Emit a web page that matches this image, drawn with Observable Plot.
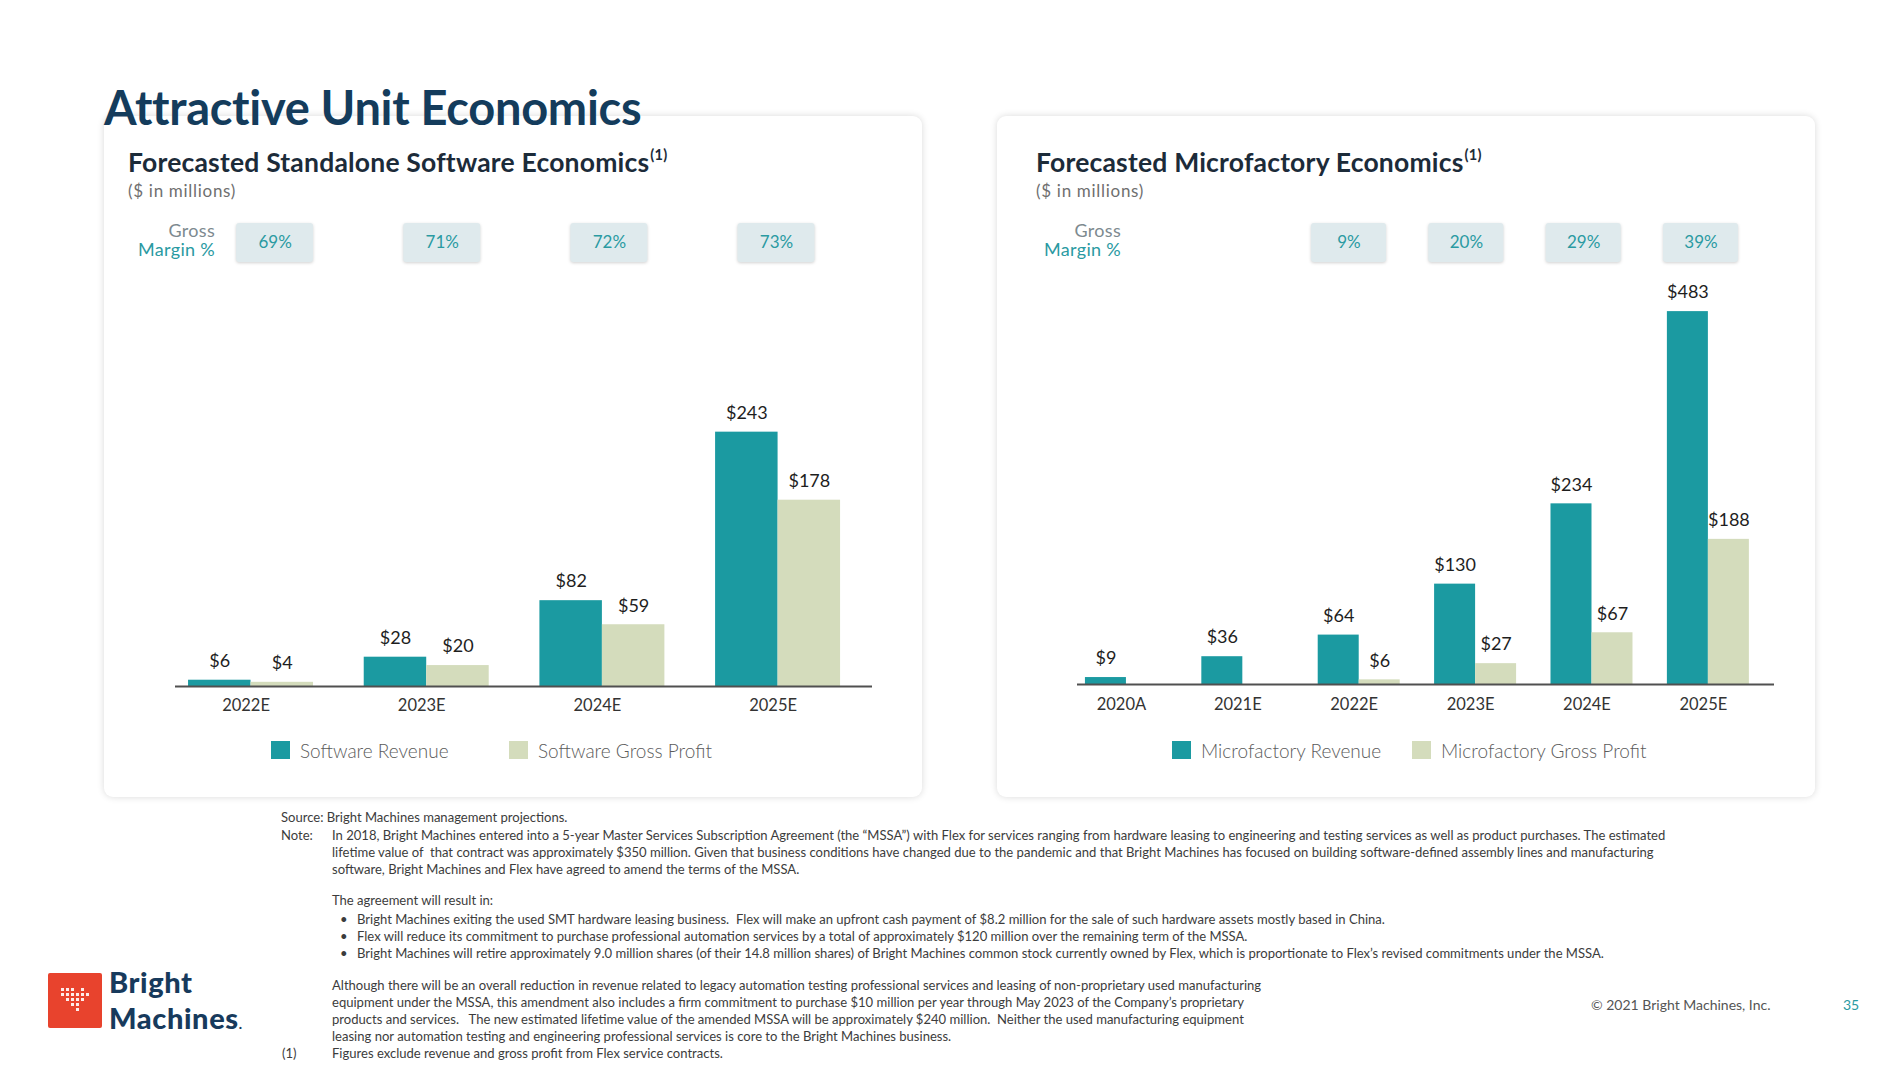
<!DOCTYPE html>
<html><head><meta charset="utf-8">
<script src="https://cdn.jsdelivr.net/npm/d3@7"></script>
<script src="https://cdn.jsdelivr.net/npm/@observablehq/plot@0.6"></script>
<style>
html,body{margin:0;padding:0;background:#fff}
body{width:1900px;height:1066px;position:relative;overflow:hidden;font-family:Lato,"Open Sans",sans-serif}
.t{position:absolute;white-space:nowrap;line-height:1}
.card{position:absolute;background:#fff;border-radius:9px;box-shadow:0 0 7px rgba(0,0,0,.15)}
.abs{position:absolute}
.fn{position:absolute;white-space:nowrap;line-height:1;font-size:13.05px;color:#3c3c3c;letter-spacing:0}
.sup{font-size:55%;position:relative;top:-0.8em;margin-left:1px}
.mrow g[aria-label="cell"] rect{filter:drop-shadow(0 1px 1.5px rgba(0,0,0,.18))}
body .lgL-swatches-wrap .lgL-swatch{margin-right:0}
body .lgL-swatches-wrap .lgL-swatch:first-of-type{min-width:238px}
body .lgR-swatches-wrap .lgR-swatch{margin-right:0}
body .lgR-swatches-wrap .lgR-swatch:first-of-type{min-width:240px}
body .lgL-swatch > svg, body .lgR-swatch > svg{margin-right:10px}
</style></head><body>
<script>
// ---------------- data ----------------
const swCategories = ["2022E", "2023E", "2024E", "2025E"];
const swRevenue = [6, 28, 82, 243];
const swGrossProfit = [4, 20, 59, 178];
const swMarginCategories = ["2022E", "2023E", "2024E", "2025E"];
const swMargin = ["69%", "71%", "72%", "73%"];
const swSeries = ["Software Revenue", "Software Gross Profit"];

const mfCategories = ["2020A", "2021E", "2022E", "2023E", "2024E", "2025E"];
const mfRevenue = [9, 36, 64, 130, 234, 483];
const mfGrossProfit = [null, null, 6, 27, 67, 188];
const mfMarginCategories = ["2022E", "2023E", "2024E", "2025E"];
const mfMargin = ["9%", "20%", "29%", "39%"];
const mfSeries = ["Microfactory Revenue", "Microfactory Gross Profit"];

const SERIES_COLORS = ["#1b9aa1", "#d4dcbc"];
const TEAL_TEXT = "#2a9aa2";

// ---------------- helpers ----------------
const body = document.body;
function el(tag, cls, css, html) {
  const e = document.createElement(tag);
  if (cls) e.className = cls;
  Object.assign(e.style, css || {});
  if (html != null) e.innerHTML = html;
  body.appendChild(e);
  return e;
}
function place(node, left, top) {
  const w = document.createElement("div");
  w.className = "abs";
  w.style.left = left + "px";
  w.style.top = top + "px";
  w.appendChild(node);
  body.appendChild(w);
  return w;
}

// ---------------- static slide text ----------------
el("div", "card", {left: "104px", top: "116px", width: "818px", height: "681px"});
el("div", "card", {left: "997px", top: "116px", width: "818px", height: "681px"});
el("div", "t", {left: "104px", top: "84px", fontSize: "47px", fontWeight: 700, color: "#143c5c", letterSpacing: "-0.3px"}, "Attractive Unit Economics");

function panelHeader(left, grossRight, title) {
  el("div", "t", {left: left + "px", top: "148.5px", fontSize: "26.5px", fontWeight: 700, color: "#1c2b39", letterSpacing: "0.2px"}, title + '<span class="sup">(1)</span>');
  el("div", "t", {left: left + "px", top: "181.5px", fontSize: "17px", color: "#6f6f6f", letterSpacing: "0.7px"}, "($ in millions)");
  el("div", "t", {right: (1900 - grossRight) + "px", top: "221px", fontSize: "18px", color: "#7d8a8f", textAlign: "right", letterSpacing: "0.3px"}, "Gross");
  el("div", "t", {right: (1900 - grossRight) + "px", top: "240px", fontSize: "18px", color: TEAL_TEXT, textAlign: "right", letterSpacing: "0.3px"}, "Margin %");
}
panelHeader(128, 215, "Forecasted Standalone Software Economics");
panelHeader(1036, 1121, "Forecasted Microfactory Economics");

// ---------------- charts ----------------
function drawPanel(cfg) {
  const {cats, rev, gp, series, marginCats, margins, bars, boxes, legend} = cfg;
  const rows = cats.map((c, i) => ({cat: c, value: rev[i]}));
  const gpRows = cats.map((c, i) => ({cat: c, value: gp[i]})).filter(d => d.value != null);
  const bw = d3.scaleBand().domain(cats)
    .range([bars.mL, bars.width - bars.mR])
    .paddingInner(bars.pi).paddingOuter(bars.po).align(bars.align).bandwidth();

  const chart = Plot.plot({
    width: bars.width, height: bars.height,
    marginLeft: bars.mL, marginRight: bars.mR, marginTop: 0, marginBottom: bars.mB,
    style: {background: "transparent", fontFamily: "Lato, sans-serif", color: "#2b2b2b", overflow: "visible"},
    x: {domain: cats, paddingInner: bars.pi, paddingOuter: bars.po, align: bars.align, round: false, label: null},
    y: {domain: [0, bars.yMax], axis: null},
    color: {domain: series, range: SERIES_COLORS},
    marks: [
      Plot.barY(rows, {x: "cat", y: "value", fill: () => series[0], insetRight: bw / 2}),
      Plot.barY(gpRows, {x: "cat", y: "value", fill: () => series[1], insetLeft: bw / 2}),
      Plot.ruleY([0], {stroke: "#505050", strokeWidth: 2.2}),
      Plot.text(rows, {x: "cat", y: "value", text: d => "$" + d.value, dx: -bw / 4, dy: -19, fontSize: 18, fill: "#1e1e1e"}),
      Plot.text(gpRows, {x: "cat", y: "value", text: d => "$" + d.value, dx: bw / 4, dy: -19, fontSize: 18, fill: "#1e1e1e"}),
      Plot.axisX({tickSize: 0, tickPadding: bars.tickPad, dx: bars.tickDx, fontSize: 16.5, fill: "#333", label: null})
    ]
  });
  place(chart, bars.left, bars.top);

  const mrows = marginCats.map((c, i) => ({cat: c, m: margins[i]}));
  const mrow = Plot.plot({
    width: boxes.width, height: 39, margin: 0, className: "mrow",
    style: {background: "transparent", fontFamily: "Lato, sans-serif", overflow: "visible"},
    x: {domain: marginCats, paddingInner: boxes.pi, paddingOuter: 0, round: false, axis: null},
    marks: [
      Plot.cell(mrows, {x: "cat", fill: "#dfeaed", rx: 3}),
      Plot.text(mrows, {x: "cat", text: "m", fill: TEAL_TEXT, fontSize: 17})
    ]
  });
  place(mrow, boxes.left, boxes.top);

  const lg = chart.legend("color", {
    swatchWidth: 19, swatchHeight: 18, className: legend.cls,
    style: {fontFamily: "Lato, sans-serif", fontSize: "19px", color: "#5b5b5b", fontWeight: 300}
  });
  place(lg, legend.left, legend.top);
}

drawPanel({
  cats: swCategories, rev: swRevenue, gp: swGrossProfit, series: swSeries,
  marginCats: swMarginCategories, margins: swMargin,
  bars: {left: 155, top: 280, width: 737, height: 456, mL: 20, mR: 20, mB: 50,
         pi: 0.2886, po: 0.128, align: 0.29, yMax: 387.9, tickPad: 13, tickDx: -5},
  boxes: {left: 235.5, top: 223, width: 578.6, pi: 0.5395},
  legend: {cls: "lgL", left: 271, top: 733.5}
});
drawPanel({
  cats: mfCategories, rev: mfRevenue, gp: mfGrossProfit, series: mfSeries,
  marginCats: mfMarginCategories, margins: mfMargin,
  bars: {left: 1057, top: 260, width: 737, height: 474, mL: 20, mR: 20, mB: 50,
         pi: 0.2955, po: 0.142, align: 0.24, yMax: 549.2, tickPad: 14, tickDx: -5},
  boxes: {left: 1310.5, top: 223, width: 427, pi: 0.3606},
  legend: {cls: "lgR", left: 1172, top: 733.5}
});

// ---------------- footnotes ----------------
function fn(left, cy, html) { el("div", "fn", {left: left + "px", top: (cy - 7.5) + "px"}, html); }
fn(281, 818, "Source: Bright Machines management projections.");
fn(281, 836, "Note:");
fn(332, 836, "In 2018, Bright Machines entered into a 5-year Master Services Subscription Agreement (the \u201CMSSA\u201D) with Flex for services ranging from hardware leasing to engineering and testing services as well as product purchases. The estimated");
fn(332, 853, "lifetime value of &nbsp;that contract was approximately $350 million. Given that business conditions have changed due to the pandemic and that Bright Machines has focused on building software-defined assembly lines and manufacturing");
fn(332, 870, "software, Bright Machines and Flex have agreed to amend the terms of the MSSA.");
fn(332, 901, "The agreement will result in:");
fn(340, 920, "\u2022");
fn(357, 920, "Bright Machines exiting the used SMT hardware leasing business. &nbsp;Flex will make an upfront cash payment of $8.2 million for the sale of such hardware assets mostly based in China.");
fn(340, 937, "\u2022");
fn(357, 937, "Flex will reduce its commitment to purchase professional automation services by a total of approximately $120 million over the remaining term of the MSSA.");
fn(340, 954, "\u2022");
fn(357, 954, "Bright Machines will retire approximately 9.0 million shares (of their 14.8 million shares) of Bright Machines common stock currently owned by Flex, which is proportionate to Flex\u2019s revised commitments under the MSSA.");
fn(332, 986, "Although there will be an overall reduction in revenue related to legacy automation testing professional services and leasing of non-proprietary used manufacturing");
fn(332, 1003, "equipment under the MSSA, this amendment also includes a firm commitment to purchase $10 million per year through May 2023 of the Company\u2019s proprietary");
fn(332, 1020, "products and services. &nbsp;&nbsp;The new estimated lifetime value of the amended MSSA will be approximately $240 million. &nbsp;Neither the used manufacturing equipment");
fn(332, 1037, "leasing nor automation testing and engineering professional services is core to the Bright Machines business.");
fn(282, 1054, "(1)");
fn(332, 1054, "Figures exclude revenue and gross profit from Flex service contracts.");

el("div", "t", {left: "1591px", top: "998px", fontSize: "14px", color: "#555"}, "\u00A9 2021 Bright Machines, Inc.");
el("div", "t", {left: "1843px", top: "998px", fontSize: "14px", color: TEAL_TEXT}, "35");

// ---------------- logo (decorative) ----------------
const logo = el("div", "abs", {left: "48px", top: "973px", width: "54px", height: "55px", background: "#e8432d", borderRadius: "2px"});
const dotRows = ["ooo.o", "oooooo", ".oooo", "..oo", "...o"];
let svgDots = '<svg width="54" height="55" viewBox="0 0 54 55">';
dotRows.forEach((r, j) => { for (let i = 0; i < r.length; i++) if (r[i] === "o") svgDots += `<rect x="${13 + i * 5}" y="${15 + j * 5}" width="3" height="3" fill="#fff" opacity="0.9"/>`; });
logo.innerHTML = svgDots + "</svg>";
el("div", "t", {left: "109px", top: "965.4px", fontSize: "29px", fontWeight: 900, color: "#173a5c", lineHeight: "1.2", letterSpacing: "0.6px"}, "Bright");
el("div", "t", {left: "109px", top: "1000.6px", fontSize: "29px", fontWeight: 900, color: "#173a5c", lineHeight: "1.2", letterSpacing: "0.6px"}, "Machines<span style='font-size:14px'>.</span>");
</script>
</body></html>
